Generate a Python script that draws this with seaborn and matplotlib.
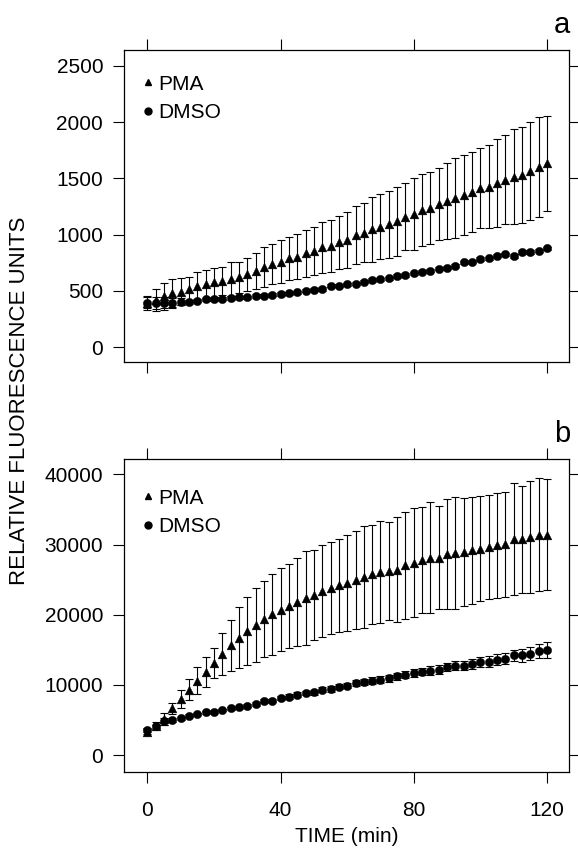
import numpy as np
import pandas as pd
import matplotlib
matplotlib.use('Agg')
import matplotlib.pyplot as plt
from matplotlib.lines import Line2D
import seaborn as sns

# time points (min)
time = np.arange(0, 120.1, 2.5)

# panel a
pma_a = [394, 418, 453, 477, 492, 513, 543, 557, 575, 590, 605, 620, 646, 676, 715, 739,
         759, 789, 804, 834, 857, 887, 899, 931, 952, 997, 1018, 1047, 1071, 1092, 1121,
         1160, 1184, 1219, 1240, 1273, 1302, 1324, 1353, 1383, 1413, 1427, 1457, 1487,
         1516, 1531, 1567, 1600, 1635]
pma_a_err = [60, 95, 119, 125, 119, 113, 121, 128, 131, 125, 154, 139, 143, 158, 178, 178,
             193, 193, 199, 207, 214, 229, 232, 235, 247, 261, 261, 286, 291, 300, 307,
             297, 318, 318, 321, 318, 339, 356, 357, 356, 356, 372, 392, 395, 422, 425,
             434, 442, 422]
dmso_a = [394, 394, 394, 394, 403, 403, 412, 424, 424, 430, 436, 442, 442, 453, 456, 465,
          471, 477, 486, 501, 510, 516, 545, 545, 557, 563, 581, 596, 602, 611, 632, 640,
          655, 670, 679, 697, 706, 724, 753, 759, 783, 789, 813, 825, 810, 845, 845, 857,
          878]
dmso_a_err = [50, 55, 50, 45, 30, 20, 15, 15, 15, 15, 15, 15, 15, 15, 15, 15, 15, 15, 15,
              15, 15, 15, 15, 15, 15, 15, 15, 15, 15, 15, 15, 15, 15, 15, 15, 15, 15, 15,
              15, 15, 15, 15, 15, 15, 15, 15, 15, 15, 15]

# panel b
pma_b = [3332, 4189, 5141, 6664, 7997, 9330, 10615, 11900, 13138, 14423, 15613, 16708,
         17660, 18564, 19421, 20040, 20706, 21230, 21801, 22372, 22753, 23372, 23848,
         24181, 24562, 24990, 25371, 25752, 26085, 26228, 26418, 27037, 27418, 27751,
         28132, 28132, 28608, 28846, 28941, 29179, 29417, 29655, 29893, 30036, 30845,
         30750, 31084, 31418, 31418]
pma_b_err = [400, 500, 800, 800, 1300, 1550, 1860, 2140, 2100, 2950, 3600, 4360, 4900,
             5240, 5430, 5760, 5900, 6000, 6240, 6760, 6400, 6570, 6550, 6670, 6830, 7000,
             7260, 7070, 7260, 7020, 7520, 7620, 7740, 7550, 7900, 7380, 7860, 7980, 7740,
             7660, 7450, 7430, 7500, 7500, 7970, 7640, 7980, 8000, 7860]
dmso_b = [3570, 4094, 4808, 4998, 5236, 5617, 5855, 6093, 6188, 6426, 6664, 6807, 7045,
          7283, 7664, 7759, 8092, 8330, 8616, 8806, 8949, 9282, 9425, 9758, 9901, 10234,
          10377, 10615, 10758, 10948, 11234, 11472, 11662, 11900, 12043, 12186, 12519,
          12757, 12757, 12995, 13233, 13328, 13566, 13709, 14185, 14185, 14423, 14804,
          14994]
dmso_b_err = [300, 250, 500, 300, 200, 200, 200, 200, 200, 200, 200, 200, 250, 250, 250,
              250, 300, 300, 300, 300, 350, 350, 400, 400, 400, 450, 450, 450, 500, 500,
              500, 550, 550, 550, 600, 600, 600, 650, 650, 700, 700, 750, 800, 800, 850,
              900, 950, 1000, 1100]

sns.set_style('ticks')
plt.rcParams['font.family'] = ['Liberation Sans', 'DejaVu Sans']
plt.rcParams['text.color'] = 'black'

fig = plt.figure(figsize=(5.78, 8.48), dpi=100)
ax_a = fig.add_axes([0.2145, 0.5731, 0.770, 0.3679])
ax_b = fig.add_axes([0.2145, 0.0896, 0.770, 0.3691])


def draw_panel(ax, pma, pma_err, dmso, dmso_err, ylim, yticks, letter, show_x, leg_y):
    df = pd.DataFrame({
        'time': np.concatenate([time, time]),
        'rfu': np.concatenate([pma, dmso]),
        'err': np.concatenate([pma_err, dmso_err]),
        'group': ['PMA'] * len(time) + ['DMSO'] * len(time),
    })
    # error bars first, markers on top
    for g in ['PMA', 'DMSO']:
        d = df[df['group'] == g]
        ax.errorbar(d['time'], d['rfu'], yerr=d['err'], fmt='none', ecolor='black',
                    elinewidth=0.8, capsize=2.6, capthick=0.8, zorder=2)
    sns.scatterplot(data=df[df['group'] == 'PMA'], x='time', y='rfu', marker='^',
                    color='black', s=40, edgecolor='black', linewidth=0.3, ax=ax,
                    legend=False, zorder=3)
    sns.scatterplot(data=df[df['group'] == 'DMSO'], x='time', y='rfu', marker='o',
                    color='black', s=36, edgecolor='black', linewidth=0.3, ax=ax,
                    legend=False, zorder=4)
    ax.set_xlim(-7, 126.6)
    ax.set_ylim(*ylim)
    ax.set_xticks([0, 40, 80, 120])
    ax.set_yticks(yticks)
    ax.set_xlabel('')
    ax.set_ylabel('')
    ax.tick_params(direction='out', length=8, width=0.8, top=True, right=True,
                   labelsize=15, colors='black')
    ax.tick_params(axis='y', pad=7)
    ax.tick_params(axis='x', pad=13)
    if not show_x:
        ax.set_xticklabels([])
    for s in ax.spines.values():
        s.set_linewidth(0.9)
        s.set_color('black')
    handles = [Line2D([], [], marker='^', ls='none', color='black', markersize=5),
               Line2D([], [], marker='o', ls='none', color='black', markersize=5)]
    ax.legend(handles, ['PMA', 'DMSO'], loc='center left', frameon=False, fontsize=15,
              handletextpad=0.0, handlelength=1.0, borderaxespad=0.0,
              labelspacing=0.45, borderpad=0.0, bbox_to_anchor=(0.031, leg_y))
    ax.text(0.984, 1.08, letter, transform=ax.transAxes, ha='center', va='center',
            fontsize=21, color='black')


draw_panel(ax_a, pma_a, pma_a_err, dmso_a, dmso_a_err, (-133, 2642),
           [0, 500, 1000, 1500, 2000, 2500], 'a', False, 0.845)
draw_panel(ax_b, pma_b, pma_b_err, dmso_b, dmso_b_err, (-2420, 42180),
           [0, 10000, 20000, 30000, 40000], 'b', True, 0.83)

fig.text(0.034, 0.527, 'RELATIVE FLUORESCENCE UNITS', rotation=90, ha='center',
         va='center', fontsize=16)
fig.text(0.6, 0.013, 'TIME (min)', ha='center', va='center', fontsize=15)

fig.savefig('out.png', dpi=100)
